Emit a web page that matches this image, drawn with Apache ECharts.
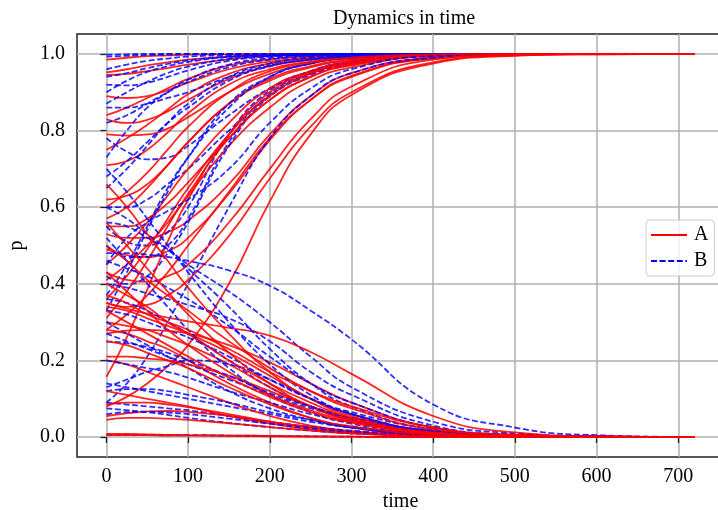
<!DOCTYPE html>
<html>
<head>
<meta charset="utf-8">
<script src="https://cdn.jsdelivr.net/npm/echarts@6/dist/echarts.min.js"></script>
<style>html,body{margin:0;padding:0;background:#fff;}#c{width:718px;height:510px;}</style>
</head>
<body>
<div id="c"></div>
<script>
// time samples
const T = [0, 25, 50, 75, 100, 150, 200, 250, 300, 400, 500, 600, 720];
const xTicks = [0, 100, 200, 300, 400, 500, 600, 700];
const yTicks = [0, 0.2, 0.4, 0.6, 0.8, 1.0];

// A curves that rise to 1
const aUp = [
[0.985,0.99,0.994,0.996,0.998,0.999,1,1,1,1,1,1,1],
[0.952,0.96,0.97,0.978,0.985,0.993,0.997,0.999,1,1,1,1,1],
[0.945,0.948,0.955,0.963,0.972,0.986,0.994,0.998,0.999,1,1,1,1],
[0.89,0.885,0.89,0.905,0.925,0.96,0.98,0.99,0.996,1,1,1,1],
[0.84,0.86,0.885,0.91,0.935,0.97,0.986,0.994,0.997,1,1,1,1],
[0.83,0.82,0.828,0.85,0.88,0.935,0.968,0.985,0.993,0.999,1,1,1],
[0.79,0.787,0.79,0.805,0.835,0.9,0.948,0.975,0.989,0.998,1,1,1],
[0.75,0.78,0.815,0.855,0.895,0.948,0.975,0.989,0.995,1,1,1,1],
[0.71,0.72,0.75,0.795,0.845,0.92,0.96,0.98,0.991,0.999,1,1,1],
[0.62,0.63,0.66,0.71,0.77,0.87,0.93,0.965,0.984,0.998,1,1,1],
[0.57,0.6,0.65,0.71,0.77,0.87,0.935,0.968,0.985,0.998,1,1,1],
[0.55,0.55,0.57,0.61,0.665,0.78,0.88,0.94,0.97,0.995,0.999,1,1],
[0.53,0.52,0.52,0.535,0.565,0.66,0.79,0.89,0.95,0.99,0.998,1,1],
[0.49,0.475,0.47,0.485,0.52,0.635,0.775,0.88,0.943,0.988,0.998,1,1],
[0.45,0.5,0.56,0.63,0.7,0.82,0.91,0.955,0.98,0.997,1,1,1],
[0.41,0.45,0.5,0.56,0.63,0.76,0.86,0.93,0.965,0.994,0.999,1,1],
[0.36,0.42,0.49,0.57,0.65,0.79,0.89,0.948,0.975,0.997,1,1,1],
[0.31,0.38,0.46,0.55,0.635,0.78,0.88,0.94,0.972,0.996,1,1,1],
[0.157,0.26,0.385,0.51,0.62,0.79,0.9,0.952,0.978,0.997,1,1,1],
[0.28,0.32,0.37,0.43,0.5,0.64,0.78,0.88,0.94,0.99,0.999,1,1],
[0.35,0.34,0.345,0.37,0.41,0.525,0.675,0.81,0.9,0.978,0.996,0.999,1],
[0.08,0.105,0.14,0.185,0.24,0.4,0.615,0.79,0.893,0.975,0.995,0.999,1],
[0.43,0.41,0.405,0.42,0.45,0.56,0.7,0.83,0.915,0.985,0.998,1,1],
[0.6,0.64,0.69,0.75,0.81,0.9,0.955,0.978,0.99,0.999,1,1,1]
];
// A curves that fall to 0
const aDown = [
[0.35,0.335,0.322,0.312,0.302,0.285,0.265,0.222,0.165,0.055,0.012,0.002,0],
[0.34,0.33,0.31,0.29,0.27,0.22,0.16,0.1,0.06,0.015,0.003,0,0],
[0.3,0.29,0.28,0.26,0.24,0.19,0.13,0.08,0.045,0.01,0.002,0,0],
[0.28,0.27,0.25,0.23,0.2,0.14,0.09,0.05,0.025,0.005,0.001,0,0],
[0.27,0.278,0.28,0.277,0.27,0.24,0.195,0.14,0.09,0.025,0.005,0.001,0],
[0.21,0.21,0.205,0.2,0.19,0.16,0.12,0.08,0.05,0.015,0.003,0,0],
[0.2,0.19,0.17,0.15,0.13,0.09,0.055,0.03,0.015,0.003,0.001,0,0],
[0.12,0.11,0.1,0.09,0.08,0.055,0.035,0.02,0.01,0.002,0,0,0],
[0.085,0.09,0.09,0.085,0.078,0.06,0.04,0.024,0.013,0.003,0.001,0,0],
[0.055,0.062,0.067,0.068,0.066,0.055,0.04,0.026,0.015,0.004,0.001,0,0],
[0.045,0.05,0.05,0.048,0.045,0.036,0.026,0.017,0.01,0.003,0.001,0,0],
[0.008,0.008,0.007,0.006,0.005,0.004,0.003,0.002,0.001,0,0,0,0],
[0.005,0.005,0.005,0.004,0.004,0.003,0.002,0.001,0.001,0,0,0,0],
[0.66,0.6,0.53,0.46,0.39,0.27,0.17,0.1,0.055,0.015,0.003,0,0],
[0.56,0.5,0.44,0.38,0.32,0.22,0.14,0.08,0.045,0.012,0.003,0,0],
[0.5,0.46,0.41,0.37,0.33,0.25,0.18,0.12,0.075,0.02,0.005,0.001,0],
[0.43,0.38,0.33,0.28,0.24,0.17,0.11,0.07,0.04,0.01,0.002,0,0],
[0.4,0.37,0.34,0.3,0.27,0.2,0.14,0.09,0.05,0.012,0.003,0,0],
[0.37,0.35,0.32,0.3,0.28,0.23,0.17,0.12,0.08,0.025,0.006,0.001,0],
[0.25,0.24,0.22,0.2,0.18,0.13,0.085,0.05,0.028,0.007,0.002,0,0],
[0.33,0.3,0.27,0.24,0.21,0.155,0.105,0.065,0.038,0.009,0.002,0,0]
];
// B curves that rise to 1
const bUp = [
[0.998,0.999,1,1,1,1,1,1,1,1,1,1,1],
[0.993,0.995,0.997,0.998,0.999,1,1,1,1,1,1,1,1],
[0.96,0.972,0.982,0.988,0.993,0.997,0.999,1,1,1,1,1,1],
[0.94,0.95,0.963,0.974,0.983,0.993,0.997,0.999,1,1,1,1,1],
[0.92,0.918,0.925,0.94,0.957,0.982,0.993,0.998,1,1,1,1,1],
[0.9,0.93,0.953,0.968,0.979,0.992,0.997,0.999,1,1,1,1,1],
[0.87,0.9,0.927,0.95,0.967,0.987,0.995,0.998,1,1,1,1,1],
[0.82,0.84,0.87,0.9,0.927,0.965,0.985,0.994,0.998,1,1,1,1],
[0.78,0.745,0.725,0.73,0.76,0.84,0.91,0.955,0.979,0.997,1,1,1],
[0.73,0.8,0.86,0.9,0.933,0.972,0.989,0.996,0.998,1,1,1,1],
[0.68,0.72,0.77,0.82,0.86,0.93,0.968,0.985,0.994,1,1,1,1],
[0.65,0.7,0.76,0.82,0.87,0.94,0.975,0.99,0.996,1,1,1,1],
[0.6,0.6,0.62,0.66,0.7,0.8,0.89,0.945,0.973,0.996,1,1,1],
[0.55,0.51,0.5,0.535,0.6,0.79,0.905,0.955,0.98,0.997,1,1,1],
[0.5,0.47,0.47,0.5,0.57,0.77,0.895,0.95,0.977,0.997,1,1,1],
[0.42,0.4,0.42,0.48,0.56,0.76,0.89,0.948,0.975,0.996,1,1,1],
[0.37,0.45,0.55,0.65,0.73,0.86,0.94,0.975,0.99,1,1,1,1],
[0.33,0.43,0.54,0.64,0.73,0.87,0.94,0.975,0.99,1,1,1,1],
[0.45,0.52,0.56,0.59,0.62,0.7,0.82,0.91,0.96,0.995,1,1,1],
[0.09,0.14,0.21,0.3,0.4,0.6,0.78,0.89,0.95,0.99,1,1,1],
[0.86,0.86,0.87,0.885,0.9,0.94,0.97,0.985,0.994,1,1,1,1]
];
// B curves that fall to 0
const bDown = [
[0.48,0.48,0.476,0.47,0.46,0.435,0.395,0.33,0.255,0.085,0.025,0.005,0],
[0.4,0.39,0.375,0.36,0.345,0.31,0.25,0.17,0.11,0.03,0.006,0.001,0],
[0.56,0.55,0.52,0.49,0.45,0.38,0.3,0.21,0.13,0.04,0.01,0.002,0],
[0.6,0.57,0.53,0.49,0.44,0.34,0.23,0.14,0.08,0.02,0.004,0,0],
[0.36,0.35,0.33,0.3,0.27,0.2,0.13,0.08,0.045,0.01,0.002,0,0],
[0.33,0.32,0.3,0.28,0.26,0.21,0.15,0.1,0.065,0.02,0.005,0.001,0],
[0.3,0.27,0.24,0.21,0.18,0.12,0.075,0.045,0.025,0.006,0.001,0,0],
[0.27,0.25,0.23,0.21,0.19,0.15,0.11,0.075,0.05,0.015,0.004,0,0],
[0.14,0.13,0.12,0.11,0.1,0.08,0.06,0.04,0.025,0.006,0.001,0,0],
[0.12,0.125,0.125,0.12,0.11,0.09,0.065,0.045,0.028,0.008,0.002,0,0],
[0.09,0.085,0.08,0.075,0.07,0.055,0.04,0.027,0.017,0.005,0.001,0,0],
[0.075,0.07,0.065,0.058,0.05,0.037,0.026,0.017,0.01,0.003,0,0,0],
[0.06,0.065,0.066,0.064,0.06,0.048,0.035,0.023,0.014,0.004,0.001,0,0],
[0.005,0.006,0.006,0.005,0.005,0.004,0.003,0.002,0.001,0,0,0,0],
[0.52,0.46,0.4,0.34,0.28,0.18,0.11,0.065,0.035,0.008,0.002,0,0],
[0.46,0.44,0.42,0.39,0.36,0.29,0.21,0.14,0.09,0.025,0.006,0.001,0],
[0.2,0.19,0.18,0.17,0.155,0.12,0.09,0.06,0.04,0.012,0.003,0,0],
[0.13,0.15,0.17,0.185,0.2,0.19,0.15,0.1,0.06,0.015,0.003,0,0],
[0.7,0.64,0.57,0.5,0.43,0.3,0.19,0.11,0.06,0.015,0.003,0,0],
[0.25,0.245,0.235,0.22,0.2,0.16,0.115,0.08,0.05,0.014,0.003,0,0]
];

const FONT = '"Liberation Serif", "DejaVu Serif", serif';
const aCurves = aUp.concat(aDown);
const bCurves = bUp.concat(bDown);

function mk(name, vals, isB) {
  return {
    name: name,
    type: 'line',
    data: T.map((t, i) => [t, vals[i]]),
    showSymbol: false,
    symbol: 'none',
    smooth: 0.5,
    silent: true,
    lineStyle: isB
      ? { color: 'rgba(0,0,255,0.82)', width: 1.8, type: [6, 2.6] }
      : { color: 'rgba(255,0,0,0.85)', width: 1.8 },
    itemStyle: { color: isB ? '#0000ff' : '#ff0000' }
  };
}
const series = [];
const n = Math.max(aCurves.length, bCurves.length);
for (let i = 0; i < n; i++) {
  if (i < aCurves.length) series.push(mk('A', aCurves[i], false));
  if (i < bCurves.length) series.push(mk('B', bCurves[i], true));
}

const iconA = 'path://M0,0h36v2h-36z';
const iconB = 'path://M0,0h6v2h-6z M8.6,0h6v2h-6z M17.2,0h6v2h-6z M25.8,0h6v2h-6z M34.4,0h1.6v2h-1.6z';

const chart = echarts.init(document.getElementById('c'), null, { renderer: 'canvas' });
chart.setOption({
  animation: false,
  backgroundColor: '#fff',
  title: {
    text: 'Dynamics in time',
    left: 399, top: 4, textAlign: 'center',
    textStyle: { fontFamily: FONT, fontSize: 20, fontWeight: 'normal', color: '#000' }
  },
  legend: {
    data: [{ name: 'A', icon: iconA }, { name: 'B', icon: iconB }],
    orient: 'vertical',
    left: 646, top: 220,
    padding: [5, 6, 5, 5],
    itemGap: 6,
    itemWidth: 36, itemHeight: 14,
    borderColor: '#cccccc', borderWidth: 1, borderRadius: 4,
    backgroundColor: 'rgba(255,255,255,0.8)',
    textStyle: { fontFamily: FONT, fontSize: 20, color: '#000', padding: [0, 0, 0, 2] }
  },
  grid: {
    left: 77, top: 34, right: -6, bottom: 53,
    show: true, borderColor: '#222', borderWidth: 1.5, backgroundColor: 'transparent',
    containLabel: false,
    outerBoundsMode: 'none'
  },
  xAxis: {
    type: 'value', min: -36, max: 756,
    name: 'time', nameLocation: 'middle', nameGap: 32,
    nameTextStyle: { fontFamily: FONT, fontSize: 20, color: '#000' },
    axisLine: { show: false },
    axisTick: { show: true, customValues: xTicks, length: 6, lineStyle: { color: '#222', width: 1.3 } },
    axisLabel: { customValues: xTicks, margin: 10, fontFamily: FONT, fontSize: 20, color: '#000' },
    splitLine: { show: true, lineStyle: { color: '#b0b0b0', width: 1.5 } }
  },
  yAxis: {
    type: 'value', min: -0.052, max: 1.052,
    name: 'p', nameLocation: 'middle', nameGap: 50,
    nameTextStyle: { fontFamily: FONT, fontSize: 20, color: '#000' },
    axisLine: { show: false },
    axisTick: { show: true, customValues: yTicks, length: 6, lineStyle: { color: '#222', width: 1.3 } },
    axisLabel: { customValues: yTicks, margin: 12, fontFamily: FONT, fontSize: 20, color: '#000',
      formatter: v => v.toFixed(1) },
    splitLine: { show: true, lineStyle: { color: '#b0b0b0', width: 1.5 } }
  },
  series: series
});
</script>
</body>
</html>
